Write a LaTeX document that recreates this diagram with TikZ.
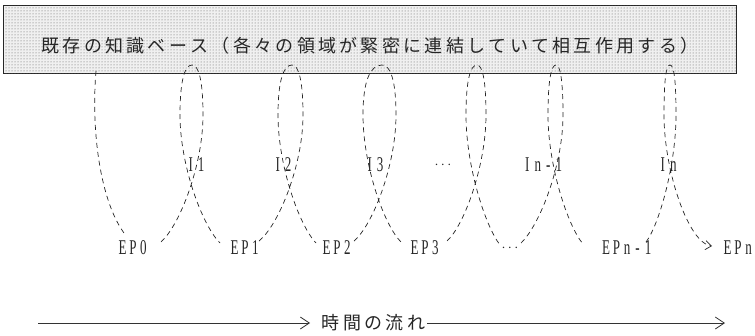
\documentclass[tikz,border=0pt]{standalone}
\usepackage{fontspec}
\usepackage{graphicx}
\usetikzlibrary{patterns,arrows.meta}
\setmainfont{Liberation Serif}
\newfontfamily\jpfont{Noto Sans CJK JP}
% fixed-pitch text helpers
\newcommand\jfp[1]{\ifx#1\relax\else\makebox[21.3pt]{#1}\expandafter\jfp\fi}
\newcommand\lfp[1]{\ifx#1\relax\else\makebox[10.5pt]{\scalebox{0.62}[1]{#1}}\expandafter\lfp\fi}
\tikzset{
  loopline/.style={draw=black!85, line width=0.7pt, dash pattern=on 5pt off 4pt},
  lab/.style={font=\fontsize{21}{21}\selectfont, inner sep=0pt, text=black!85},
  jlab/.style={font=\jpfont\fontsize{18}{18}\selectfont, inner sep=0pt, text=black!85},
  timearrow/.style={draw=black!80, line width=0.8pt, -{Straight Barb[length=9pt,width=12pt]}},
}
\newcommand\kloop[8]{%
  \pgfmathsetmacro\kla{#3+(#4-#3)*0.45}%
  \pgfmathsetmacro\klb{#5+(#4-#5)*0.6}%
  \pgfmathsetmacro\klc{#5-(#5-#6)*0.6}%
  \pgfmathsetmacro\kld{#7-(#7-#6)*0.45}%
  \draw[loopline,#8] (#1) .. controls (\kla,225) and (#4,165) .. (#4,115)
     .. controls (#4,80) and (\klb,65) .. (#5,65)
     .. controls (\klc,65) and (#6,80) .. (#6,115)
     .. controls (#6,165) and (\kld,225) .. (#2);}
\begin{document}
\begin{tikzpicture}[x=1pt,y=-1pt]
\useasboundingbox (0,0) rectangle (755,335);
% knowledge base
\node[draw=black!85, line width=1pt, fill=black!6,
      postaction={pattern=dots, pattern color=black!65},
      minimum width=733pt, minimum height=68pt, inner sep=0pt] (kb) at (370,39) {};
\node[jlab] (kbt) at (370,46) {\jfp 既存の知識ベース（各々の領域が緊密に連結していて相互作用する）\relax};
% labels
\node[lab] (I1) at (196,165) {\lfp I1\relax};
\node[lab] (I2) at (283,165) {\lfp I2\relax};
\node[lab] (I3) at (375,165) {\lfp I3\relax};
\node[lab, font=\fontsize{14}{14}\selectfont] (Id) at (443,165) {$\cdots$};
\node[lab] (In1) at (543,165) {\lfp In-1\relax};
\node[lab] (In) at (668,165) {\lfp In\relax};
\node[lab] (EP0) at (133,248) {\lfp EP0\relax};
\node[lab] (EP1) at (245,248) {\lfp EP1\relax};
\node[lab] (EP2) at (337,248) {\lfp EP2\relax};
\node[lab] (EP3) at (425,248) {\lfp EP3\relax};
\node[lab, font=\fontsize{14}{14}\selectfont] (EPd) at (510,248) {$\cdots$};
\node[lab] (EPn1) at (627,248) {\lfp EPn-1\relax};
\node[lab] (EPn) at (738,248) {\lfp EPn\relax};
% loop end points
\coordinate (s0) at (96,71);   \coordinate (e0) at (124,233);
\coordinate (s1) at (161,242); \coordinate (e1) at (220,243);
\coordinate (s2) at (259,241); \coordinate (e2) at (316,243);
\coordinate (s3) at (354,241); \coordinate (e3) at (401,242);
\coordinate (s4) at (447,241); \coordinate (e4) at (500,245);
\coordinate (s5) at (521,243); \coordinate (e5) at (583,244);
\coordinate (s6) at (646,242); \coordinate (e6) at (712,246);
% loops
\draw[loopline] (s0) .. controls (91,130) and (100,200) .. (e0);
\kloop{s1}{e1}{161}{203}{192}{180}{220}{}
\kloop{s2}{e2}{259}{303}{292}{278}{316}{}
\kloop{s3}{e3}{354}{396}{382}{363}{401}{}
\kloop{s4}{e4}{447}{486}{477}{466}{500}{}
\kloop{s5}{e5}{521}{563}{556}{548}{583}{}
\draw[loopline, -{Straight Barb[length=6pt,width=9pt]}] (s6) .. controls (659,225) and (676,165) .. (676,115)
     .. controls (676,80) and (674,65) .. (670,65)
     .. controls (666,65) and (664,80) .. (664,115)
     .. controls (664,170) and (688,243) .. (e6);
% time flow
\node[jlab] (time) at (373.5,323) {\jfp 時間の流れ\relax};
\coordinate (ta) at (38,323);
\coordinate (tb) at (725,323);
\draw[timearrow] (ta) -- ([xshift=-10pt]time.west);
\draw[timearrow] (time.east) -- (tb);
\end{tikzpicture}
\end{document}
